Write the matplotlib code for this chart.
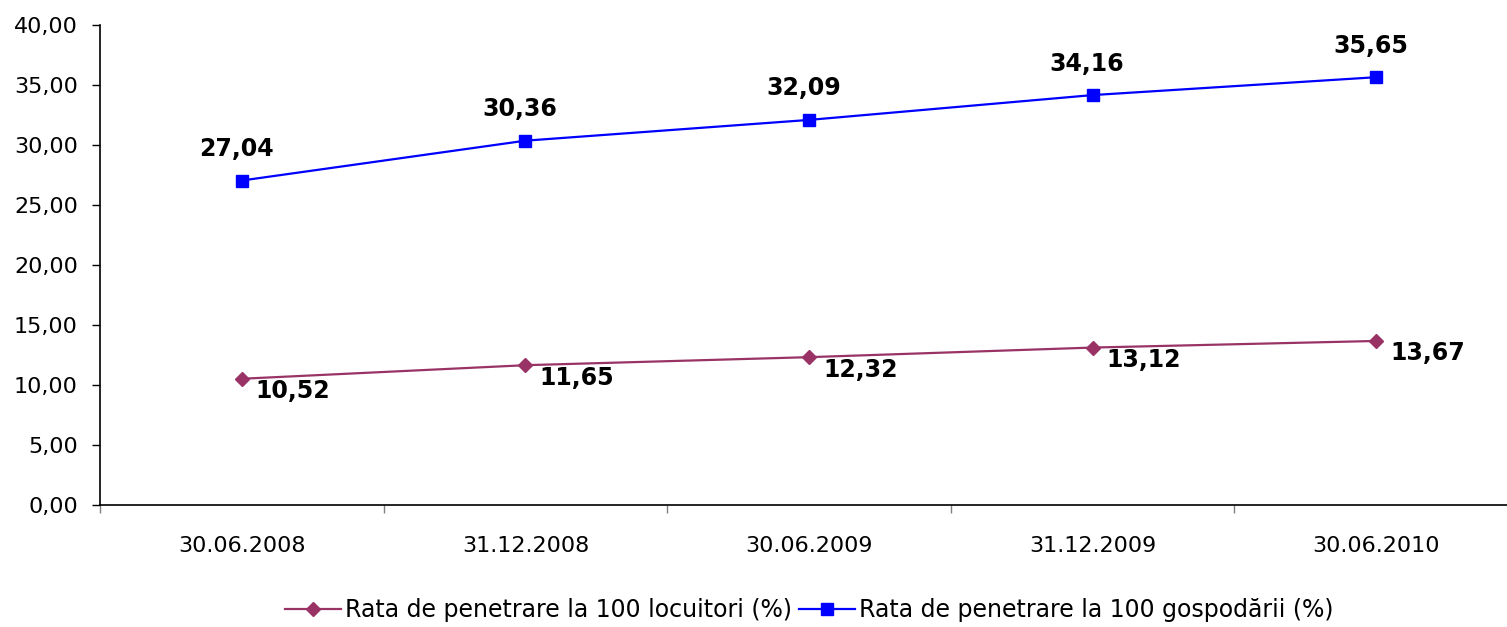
import numpy as np
from matplotlib import pyplot as plt
from matplotlib.ticker import FuncFormatter, FixedLocator

plt.rcParams['font.family'] = 'DejaVu Sans'

dates = ["30.06.2008", "31.12.2008", "30.06.2009", "31.12.2009", "30.06.2010"]
locuitori = [10.52, 11.65, 12.32, 13.12, 13.67]
gospodarii = [27.04, 30.36, 32.09, 34.16, 35.65]
name_loc = "Rata de penetrare la 100 locuitori (%)"
name_gos = "Rata de penetrare la 100 gospodării (%)"

def comma(v, decimals=2):
    return f"{v:.{decimals}f}".replace(".", ",")

fig = plt.figure(figsize=(15.07, 6.27), dpi=100)
ax = fig.add_axes([100/1507, 122/627, 1418/1507, 480/627])

xpos = np.arange(len(dates))
ax.plot(xpos, locuitori, color='#993366', lw=1.6, marker='D', markersize=7.5,
        label=name_loc)
ax.plot(xpos, gospodarii, color='#0000FF', lw=1.6, marker='s', markersize=8.5,
        label=name_gos)

# value labels: blue above the point, purple right-below
for x, v in zip(xpos, gospodarii):
    ax.annotate(comma(v), (x, v), xytext=(-4, 14), textcoords='offset points',
                ha='center', va='bottom', fontsize=17, fontweight='bold')
for x, v in zip(xpos, locuitori):
    ax.annotate(comma(v), (x, v), xytext=(10, -9), textcoords='offset points',
                ha='left', va='center', fontsize=17, fontweight='bold')

ax.set_xlim(-0.5, len(dates) - 0.5)
ax.set_ylim(0, 40)
ax.set_yticks(np.arange(0, 41, 5))
ax.yaxis.set_major_formatter(FuncFormatter(lambda v, p: comma(v)))
ax.set_xticks(xpos)
ax.set_xticklabels(dates)
ax.xaxis.set_minor_locator(FixedLocator(np.arange(-0.5, len(dates), 1.0)))

ax.tick_params(axis='y', direction='out', length=6, width=1, pad=10, labelsize=16)
ax.tick_params(axis='x', which='major', length=0, pad=22, labelsize=16)
ax.tick_params(axis='x', which='minor', direction='out', length=6, width=1, color='#808080')

for s in ['top', 'right']:
    ax.spines[s].set_visible(False)
for s in ['left', 'bottom']:
    ax.spines[s].set_linewidth(1.2)

fig.legend(loc='center', bbox_to_anchor=(809/1507, 1 - 610/627), ncol=2,
           frameon=False, fontsize=17, handlelength=2.4, handletextpad=0.15,
           columnspacing=0.3)

fig.savefig("out.png", dpi=100)
